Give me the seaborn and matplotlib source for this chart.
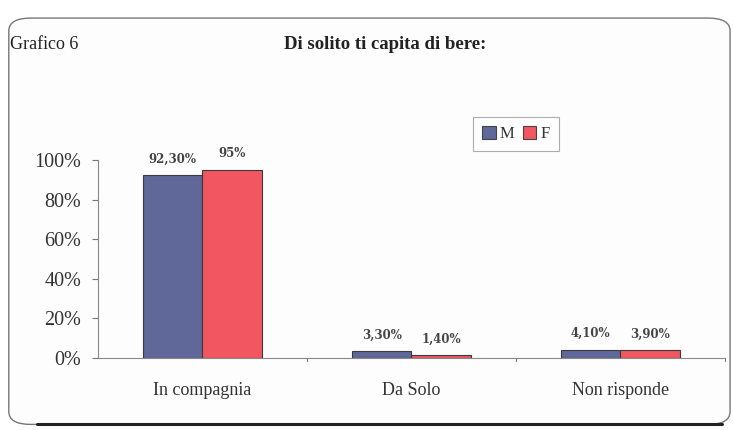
import matplotlib
matplotlib.use("Agg")
import matplotlib.pyplot as plt
from matplotlib.patches import FancyBboxPatch, Patch
import seaborn as sns
import pandas as pd

categories = ["In compagnia", "Da Solo", "Non risponde"]
groups = ["M", "F"]
values_m = [92.3, 3.3, 4.1]
values_f = [95.0, 1.4, 3.9]
labels_m = ["92,30%", "3,30%", "4,10%"]
labels_f = ["95%", "1,40%", "3,90%"]
yticks = [0, 20, 40, 60, 80, 100]

df = pd.DataFrame({
    "categoria": categories * 2,
    "sesso": ["M"] * 3 + ["F"] * 3,
    "valore": values_m + values_f,
})
text_labels = labels_m + labels_f

sns.set_theme(style="white")
serif = ["Liberation Serif", "DejaVu Serif"]
plt.rcParams["font.family"] = serif

fig = plt.figure(figsize=(7.33, 4.30), dpi=100)
fig.patch.set_facecolor("white")

# rounded frame around the whole chart
frame = FancyBboxPatch((0.012, 0.013), 0.984, 0.945,
                       boxstyle="round,pad=0,rounding_size=0.03",
                       transform=fig.transFigure, facecolor="#fdfdfd",
                       edgecolor="#777777", linewidth=1.0, zorder=-5)
fig.patches.append(frame)
# heavier shadow line along the bottom edge
fig.add_artist(plt.Line2D([0.05, 0.985], [0.013, 0.013], transform=fig.transFigure,
                          color="#222222", linewidth=2.2, zorder=-4))

ax = fig.add_axes([0.1337, 0.1674, 0.855, 0.4605])
ax.set_facecolor("none")
ax.set_zorder(2)

palette = {"M": "#5f6898", "F": "#f25660"}
sns.barplot(data=df, x="categoria", y="valore", hue="sesso", order=categories,
            hue_order=groups, palette=palette, width=0.57, saturation=1,
            edgecolor="#3a3a3a", linewidth=0.8, ax=ax, legend=False)

ax.set_ylim(0, 100)
ax.set_xlim(-0.5, 2.5)
ax.set_xlabel("")
ax.set_ylabel("")
ax.set_yticks(yticks)
ax.set_yticklabels([f"{v}%" for v in yticks], fontsize=14.5, color="#333333",
                   family=serif)
ax.set_xticks(range(len(categories)))
ax.set_xticklabels(categories, fontsize=13, color="#333333", family=serif)
ax.tick_params(axis="x", length=0, pad=17)
ax.tick_params(axis="y", length=4, width=0.8, color="#777777", left=True, pad=8)

# boundary ticks between categories on the x axis
for b in [0.5, 1.5, 2.5]:
    ax.plot([b, b], [0, -1.5], color="#777777", lw=0.8, clip_on=False)

for side in ["top", "right"]:
    ax.spines[side].set_visible(False)
for side in ["left", "bottom"]:
    ax.spines[side].set_color("#888888")
    ax.spines[side].set_linewidth(0.8)

# value labels above each bar, in a wide serif face
for bar, txt in zip(ax.patches, text_labels):
    ax.annotate(txt, (bar.get_x() + bar.get_width() / 2, bar.get_height()),
                xytext=(0, 7), textcoords="offset points", ha="center",
                va="bottom", fontsize=8.5, fontweight="bold", color="#444444",
                family=["DejaVu Serif"])

handles = [Patch(facecolor=palette[g], edgecolor="#444444", linewidth=0.8, label=g)
           for g in groups]
leg = fig.legend(handles=handles, loc="center", bbox_to_anchor=(0.704, 0.688),
                 ncol=2, frameon=True, fancybox=False,
                 prop={"family": serif, "size": 12},
                 handlelength=0.8, handleheight=0.8, handletextpad=0.25,
                 columnspacing=0.5, borderpad=0.55)
leg.get_frame().set_edgecolor("#999999")
leg.get_frame().set_linewidth(0.8)
for t in leg.get_texts():
    t.set_color("#333333")

fig.text(0.014, 0.897, "Grafico 6", fontsize=13,
         color="#222222", ha="left", va="center")
fig.text(0.525, 0.897, "Di solito ti capita di bere:", fontsize=13.5,
         fontweight="bold", color="#222222", ha="center", va="center")

fig.savefig("out.png", dpi=100)
